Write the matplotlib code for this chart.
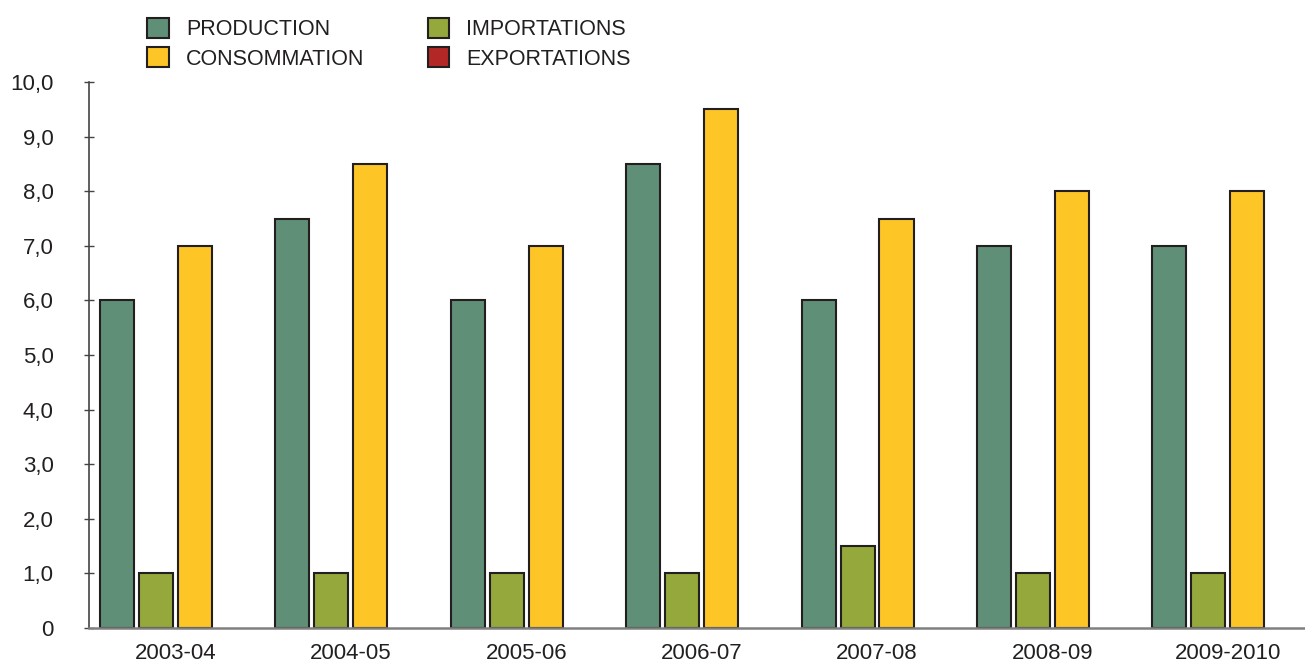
import numpy as np
import matplotlib.pyplot as plt

plt.rcParams['font.family'] = ['Liberation Sans', 'DejaVu Sans']

saisons = ['2003-04', '2004-05', '2005-06', '2006-07', '2007-08', '2008-09', '2009-2010']
production = [6.0, 7.5, 6.0, 8.5, 6.0, 7.0, 7.0]
importations = [1.0, 1.0, 1.0, 1.0, 1.5, 1.0, 1.0]
consommation = [7.0, 8.5, 7.0, 9.5, 7.5, 8.0, 8.0]
exportations = [0.0, 0.0, 0.0, 0.0, 0.0, 0.0, 0.0]

series = [
    ('PRODUCTION', production, '#5f8f76'),
    ('IMPORTATIONS', importations, '#94a83c'),
    ('CONSOMMATION', consommation, '#fdc526'),
    ('EXPORTATIONS', exportations, '#b32827'),
]

fig = plt.figure(figsize=(13.05, 6.62), dpi=100)
ax = fig.add_axes([89/1305, 1 - 628/662, 1 - 89/1305, (628 - 82)/662])

x = np.arange(len(saisons))
step = 0.222
width = 0.194
bars = {}
for k, (nom, vals, col) in enumerate(series):
    # no outline on empty bars
    lw = [1.5 if v > 0 else 0 for v in vals]
    bars[nom] = ax.bar(x + (k - 1.5) * step, vals, width, color=col,
                       edgecolor='#231f20', linewidth=lw, label=nom)

ax.set_xlim(-0.493, 6.44)
ax.set_ylim(0, 10)
ax.set_yticks(np.arange(0, 11, 1))
ax.set_yticklabels(['0'] + [f'{v},0' for v in range(1, 11)])
ax.set_xticks(x)
ax.set_xticklabels(saisons)

for s in ['top', 'right']:
    ax.spines[s].set_visible(False)
ax.spines['left'].set_color('#444444')
ax.spines['left'].set_linewidth(1.2)
ax.spines['bottom'].set_color('#808080')
ax.spines['bottom'].set_linewidth(1.8)
ax.tick_params(axis='y', direction='inout', length=7, width=1, color='#444444',
               labelsize=16, labelcolor='#231f20', pad=22)
ax.tick_params(axis='x', length=0, labelsize=16, labelcolor='#231f20', pad=11)

ordre = ['PRODUCTION', 'CONSOMMATION', 'IMPORTATIONS', 'EXPORTATIONS']
h = [bars[n] for n in ordre]
leg = fig.legend(h, ordre, ncol=2, loc='upper left',
                 bbox_to_anchor=(147/1305, 1 - 18/662), frameon=False, fontsize=15.5,
                 handlelength=1.0, handleheight=1.05, handletextpad=0.8,
                 columnspacing=2.95, labelspacing=0.32, borderpad=0, borderaxespad=0,
                 labelcolor='#231f20')
for p in leg.get_patches():
    p.set_linewidth(1.5)

fig.savefig('out.png', dpi=100)
